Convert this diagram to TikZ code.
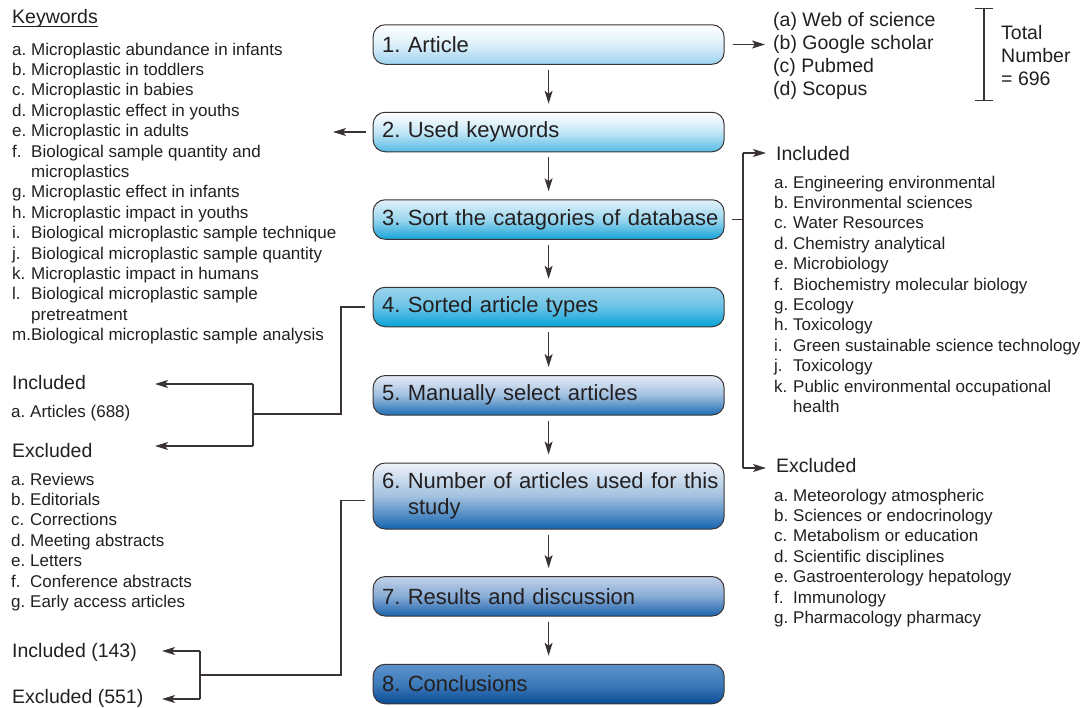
\documentclass[tikz,border=0pt]{standalone}
\usepackage{fontspec}
\setmainfont{Liberation Sans}
\usetikzlibrary{arrows.meta}
\frenchspacing
\definecolor{ink}{HTML}{231F20}
\definecolor{wirec}{HTML}{3A3333}
\definecolor{bA}{HTML}{9DD3EF}
\definecolor{bB}{HTML}{55BAE5}
\definecolor{tC}{HTML}{E2F2FA}
\definecolor{bC}{HTML}{17A3D8}
\definecolor{tD}{HTML}{9DD3EC}
\definecolor{bD}{HTML}{08A3D8}
\definecolor{tE}{HTML}{E6ECF6}
\definecolor{bE}{HTML}{1D6DB5}
\definecolor{tF}{HTML}{EEF2F9}
\definecolor{bF}{HTML}{1565B0}
\definecolor{tG}{HTML}{C2D2EA}
\definecolor{bG}{HTML}{1A62AC}
\definecolor{tH}{HTML}{5B93CC}
\definecolor{bH}{HTML}{0A4D97}
\newcommand{\lstlbl}[2]{\makebox[19pt][l]{#1}#2}
\newcommand{\lstcont}[1]{\hspace*{19pt}#1}
\begin{document}
\begin{tikzpicture}[x=1pt,y=-1pt,
  every node/.style={text=ink},
  box/.style={draw=wirec, line width=1pt, rounded corners=12pt, minimum height=39.5pt,
    text width=333pt, inner xsep=9pt, inner ysep=0pt, align=left,
    font=\fontsize{22}{26}\selectfont},
  grad/.style n args={2}{top color=#1, bottom color=#2, middle color=#2!35!#1},
  arr/.style={draw=wirec, line width=1.2pt, -{Stealth[length=13pt,width=8pt,inset=3pt]}},
  wire/.style={draw=wirec, line width=1.2pt},
  lst/.style={inner sep=0pt, anchor=base west, align=left, font=\fontsize{17}{20.4}\selectfont},
  hd/.style={inner sep=0pt, anchor=base west, align=left, font=\fontsize{19.5}{23.4}\selectfont},
]
\useasboundingbox (0,0) rectangle (1083,707);

% main boxes
\node[box, grad={white}{bA}] (b1) at (548.6,44.5) {1. Article};
\node[box, grad={white}{bB}] (b2) at (548.6,132) {2. Used keywords};
\node[box, grad={tC}{bC}] (b3) at (548.6,219.5) {\mbox{3. Sort the catagories of database}};
\node[box, grad={tD}{bD}] (b4) at (548.6,307) {4. Sorted article types};
\node[box, grad={tE}{bE}] (b5) at (548.6,395.3) {5. Manually select articles};
\node[box, grad={tF}{bF}, minimum height=66pt] (b6) at (548.6,496) {\mbox{6. Number of articles used for this}\\\hspace*{26pt}study};
\node[box, grad={tG}{bG}] (b7) at (548.6,596.3) {7. Results and discussion};
\node[box, grad={tH}{bH}] (b8) at (548.6,684) {8. Conclusions};

\foreach \a/\b in {b1/b2,b2/b3,b3/b4,b4/b5,b5/b6,b6/b7,b7/b8}
  \draw[arr] ([yshift=-5pt]\a.south) -- ([yshift=8pt]\b.north);

% sources (anchor = baseline of last line)
\node[hd, font=\fontsize{19.5}{23.3}\selectfont] (src) at (773,95.9) {(a) Web of science\\(b) Google scholar\\(c) Pubmed\\(d) Scopus};
\coordinate (srcin) at (765,0);
\draw[arr] ([xshift=8pt]b1.east) -- (b1.east -| srcin);
\coordinate (brt) at (984,8.7);
\coordinate (brb) at (984,100.7);
\draw[wire] (brt) -- (brb);
\draw[wire] ([xshift=-9pt]brt) -- ([xshift=9pt]brt);
\draw[wire] ([xshift=-9pt]brb) -- ([xshift=9pt]brb);
\node[hd] (tot) at (1001,85.8) {Total\\Number\\= 696};

% keywords
\node[hd] (kwh) at (12,23.5) {Keywords};
\draw[draw=ink, line width=1pt] ([yshift=-2.5pt]kwh.base west) -- ([yshift=-2.5pt]kwh.base east);
\node[lst] (kwl) at (12,340.6) {\lstlbl{a.}{Microplastic abundance in infants}\\
\lstlbl{b.}{Microplastic in toddlers}\\
\lstlbl{c.}{Microplastic in babies}\\
\lstlbl{d.}{Microplastic effect in youths}\\
\lstlbl{e.}{Microplastic in adults}\\
\lstlbl{f.}{Biological sample quantity and}\\
\lstcont{microplastics}\\
\lstlbl{g.}{Microplastic effect in infants}\\
\lstlbl{h.}{Microplastic impact in youths}\\
\lstlbl{i.}{Biological microplastic sample technique}\\
\lstlbl{j.}{Biological microplastic sample quantity}\\
\lstlbl{k.}{Microplastic impact in humans}\\
\lstlbl{l.}{Biological microplastic sample}\\
\lstcont{pretreatment}\\
m.Biological microplastic sample analysis};
\coordinate (kwin) at (333,0);
\draw[arr] ([xshift=-7pt]b2.west) -- (b2.west -| kwin);

% article types
\coordinate (j4) at (341,414);
\coordinate (f4) at (253,414);
\coordinate (inc1) at (155,384);
\coordinate (exc1) at (155,446);
\draw[wire] ([xshift=-8pt]b4.west) -| (j4) -- (f4);
\draw[wire] (inc1 -| f4) -- (exc1 -| f4);
\draw[arr] (inc1 -| f4) -- (inc1);
\draw[arr] (exc1 -| f4) -- (exc1);
\node[hd] (inc1t) at (12,389) {Included};
\node[lst] (art) at (11,417) {\lstlbl{a.}{Articles (688)}};
\node[hd] (exc1t) at (12,457) {Excluded};
\node[lst] (exl) at (11,607.4) {\lstlbl{a.}{Reviews}\\
\lstlbl{b.}{Editorials}\\
\lstlbl{c.}{Corrections}\\
\lstlbl{d.}{Meeting abstracts}\\
\lstlbl{e.}{Letters}\\
\lstlbl{f.}{Conference abstracts}\\
\lstlbl{g.}{Early access articles}};

% final numbers
\coordinate (j6) at (341,675);
\coordinate (f6) at (200,675);
\coordinate (inc2) at (162,651);
\coordinate (exc2) at (162,699);
\draw[wire] ([xshift=-8pt,yshift=-4.5pt]b6.west) -| (j6) -- (f6);
\draw[wire] (inc2 -| f6) -- (exc2 -| f6);
\draw[arr] (inc2 -| f6) -- (inc2);
\draw[arr] (exc2 -| f6) -- (exc2);
\node[hd] (inc2t) at (12,657) {Included (143)};
\node[hd] (exc2t) at (12,703) {Excluded (551)};

% categories
\coordinate (rv) at (743,0);
\coordinate (rt) at (743,153);
\coordinate (rb) at (743,468);
\coordinate (rti) at (766,153);
\coordinate (rbi) at (766,468);
\draw[wire] ([xshift=7pt]b3.east) -- (b3.east -| rv);
\draw[wire] (rt) -- (rb);
\draw[arr] (rt) -- (rti);
\draw[arr] (rb) -- (rbi);
\node[hd] (inc3) at (776,160) {Included};
\node[lst] (incl) at (774,412.4) {\lstlbl{a.}{Engineering environmental}\\
\lstlbl{b.}{Environmental sciences}\\
\lstlbl{c.}{Water Resources}\\
\lstlbl{d.}{Chemistry analytical}\\
\lstlbl{e.}{Microbiology}\\
\lstlbl{f.}{Biochemistry molecular biology}\\
\lstlbl{g.}{Ecology}\\
\lstlbl{h.}{Toxicology}\\
\lstlbl{i.}{Green sustainable science technology}\\
\lstlbl{j.}{Toxicology}\\
\lstlbl{k.}{Public environmental occupational}\\
\lstcont{health}};
\node[hd] (exc3) at (776,472) {Excluded};
\node[lst] (excl) at (774,623.4) {\lstlbl{a.}{Meteorology atmospheric}\\
\lstlbl{b.}{Sciences or endocrinology}\\
\lstlbl{c.}{Metabolism or education}\\
\lstlbl{d.}{Scientific disciplines}\\
\lstlbl{e.}{Gastroenterology hepatology}\\
\lstlbl{f.}{Immunology}\\
\lstlbl{g.}{Pharmacology pharmacy}};
\end{tikzpicture}
\end{document}
